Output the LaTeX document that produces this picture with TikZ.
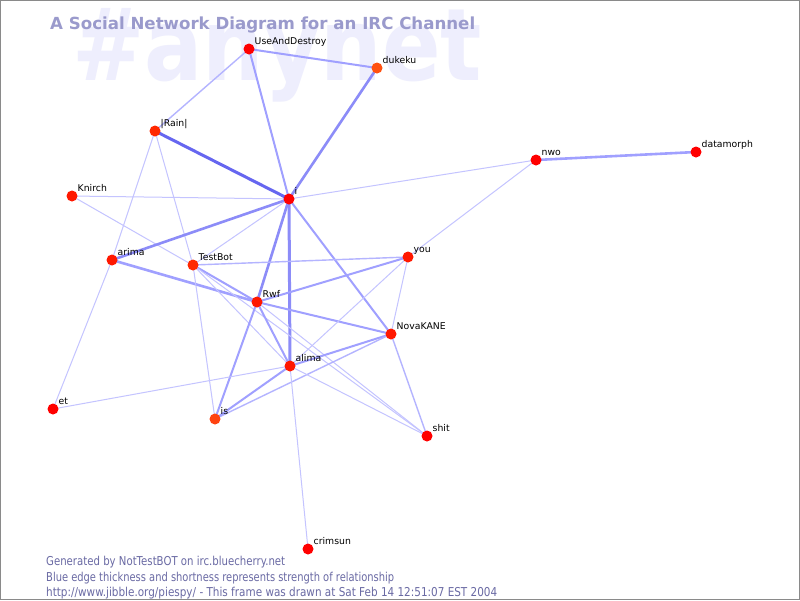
\documentclass[tikz,border=0pt]{standalone}
\usepackage{fontspec}
\setmainfont{DejaVu Sans}
\newfontfamily\wmfont{DejaVu Sans Bold}
\newfontfamily\lblfont{DejaVu Sans}
\usetikzlibrary{calc}
\pgfdeclarelayer{paper}
\pgfdeclarelayer{bg}
\pgfdeclarelayer{wm}
\pgfsetlayers{paper,wm,bg,main}
\definecolor{wmcol}{HTML}{EEEEFD}
\definecolor{titlecol}{HTML}{9A9ACC}
\definecolor{footcol}{HTML}{6A6AA4}
\definecolor{framecol}{HTML}{8A8A8A}
\definecolor{ethin}{HTML}{C4C4FF}
\definecolor{elight}{HTML}{B4B4FF}
\definecolor{emed}{HTML}{A0A0FF}
\definecolor{estrong}{HTML}{8C8CF8}
\definecolor{edeep}{HTML}{6666F0}
\definecolor{nred}{HTML}{FF0000}
\definecolor{nred2}{HTML}{FF1800}
\definecolor{nred3}{HTML}{FF2800}
\definecolor{norange}{HTML}{FF5010}
\definecolor{norange2}{HTML}{FF4210}
\tikzset{
  dot/.style={circle, inner sep=0pt, minimum size=11pt, draw=none},
  lbl/.style={anchor=base west, inner sep=0pt, font=\lblfont\fontsize{9.3}{10}\selectfont, text=black},
  wthin/.style={draw=ethin, line width=1pt},
  wlight/.style={draw=elight, line width=1.4pt},
  wmed/.style={draw=emed, line width=2pt},
  wstrong/.style={draw=estrong, line width=2.6pt},
  wdeep/.style={draw=edeep, line width=3pt},
  foot/.style={anchor=base west, inner sep=0pt, text=footcol, font=\fontsize{12}{13}\selectfont},
}
\newcommand\pnode[4]{%
  \node[dot, fill=#4] (#1) at (#2) {};
  \node[lbl] (#1-l) at ([shift={(5.5,-5)}]#1.center) {#3};}
\begin{document}
\begin{tikzpicture}[x=1pt, y=-1pt]
\useasboundingbox (0,0) rectangle (800,600);
\begin{pgfonlayer}{paper}
\fill[white] (0,0) rectangle (800,600);
\end{pgfonlayer}
\begin{pgfonlayer}{wm}
\node[anchor=base west, inner sep=0pt, text=wmcol] (wm) at (72,80)
  {\resizebox{410pt}{72pt}{\wmfont \#anynet}};
\end{pgfonlayer}
\node[anchor=base west, inner sep=0pt, text=titlecol] (title) at (50,29)
  {\resizebox{425pt}{!}{\wmfont A Social Network Diagram for an IRC Channel}};
% nodes
\pnode{ud}{249,49}{UseAndDestroy}{nred}
\pnode{duk}{377,68}{dukeku}{norange}
\pnode{rain}{155,131}{|Rain|}{nred3}
\pnode{kn}{72,196}{Knirch}{nred2}
\pnode{i}{289,199}{i}{nred}
\pnode{nwo}{536,160}{nwo}{nred}
\pnode{dm}{696,152}{datamorph}{nred}
\pnode{ar}{112,260}{arima}{nred2}
\pnode{tb}{193,265}{TestBot}{nred3}
\pnode{you}{408,257}{you}{nred2}
\pnode{rwf}{257,302}{Rwf}{nred2}
\pnode{nk}{391,334}{NovaKANE}{nred2}
\pnode{al}{290,366}{alima}{nred2}
\pnode{et}{53,409}{et}{nred}
\pnode{is}{215,419}{is}{norange2}
\pnode{sh}{427,436}{shit}{nred}
\pnode{cr}{308,549}{crimsun}{nred}
% edges
\begin{pgfonlayer}{bg}
\draw[wmed] (ud.center) -- (duk.center);
\draw[wlight] (ud.center) -- (rain.center);
\draw[wmed] (ud.center) -- (i.center);
\draw[wstrong] (duk.center) -- (i.center);
\draw[wdeep] (rain.center) -- (i.center);
\draw[wthin] (rain.center) -- (ar.center);
\draw[wthin] (rain.center) -- (tb.center);
\draw[wthin] (kn.center) -- (i.center);
\draw[wthin] (kn.center) -- (rwf.center);
\draw[wthin] (i.center) -- (nwo.center);
\draw[wstrong] (i.center) -- (ar.center);
\draw[wthin] (i.center) -- (tb.center);
\draw[wstrong] (i.center) -- (rwf.center);
\draw[wstrong, line width=3pt] (i.center) -- (al.center);
\draw[wmed] (i.center) -- (nk.center);
\draw[wstrong, draw=emed] (nwo.center) -- (dm.center);
\draw[wthin] (nwo.center) -- (you.center);
\draw[wstrong, draw=emed] (ar.center) -- (rwf.center);
\draw[wthin] (ar.center) -- (et.center);
\draw[wlight] (tb.center) -- (you.center);
\draw[wmed] (tb.center) -- (rwf.center);
\draw[wthin] (tb.center) -- (is.center);
\draw[wthin] (tb.center) -- (al.center);
\draw[wthin] (tb.center) -- (sh.center);
\draw[wmed] (rwf.center) -- (you.center);
\draw[wmed] (rwf.center) -- (nk.center);
\draw[wmed] (rwf.center) -- (al.center);
\draw[wmed] (rwf.center) -- (is.center);
\draw[wthin] (rwf.center) -- (sh.center);
\draw[wthin] (you.center) -- (al.center);
\draw[wthin] (you.center) -- (nk.center);
\draw[wmed] (nk.center) -- (al.center);
\draw[wlight] (nk.center) -- (is.center);
\draw[wlight] (nk.center) -- (sh.center);
\draw[wmed] (al.center) -- (is.center);
\draw[wthin] (al.center) -- (et.center);
\draw[wthin] (al.center) -- (cr.center);
\draw[wthin] (al.center) -- (sh.center);
\end{pgfonlayer}
% footer
\node[foot] (f1) at (46,565) {\resizebox{239pt}{9.3pt}{Generated by NotTestBOT on irc.bluecherry.net}};
\node[foot] (f2) at (46,581) {\resizebox{348pt}{9.3pt}{Blue edge thickness and shortness represents strength of relationship}};
\node[foot] (f3) at (46,596) {\resizebox{451pt}{9.3pt}{http://www.jibble.org/piespy/ - This frame was drawn at Sat Feb 14 12:51:07 EST 2004}};
\draw[framecol, line width=1pt] (0.5,0.5) rectangle (799.5,599.5);
\end{tikzpicture}
\end{document}
